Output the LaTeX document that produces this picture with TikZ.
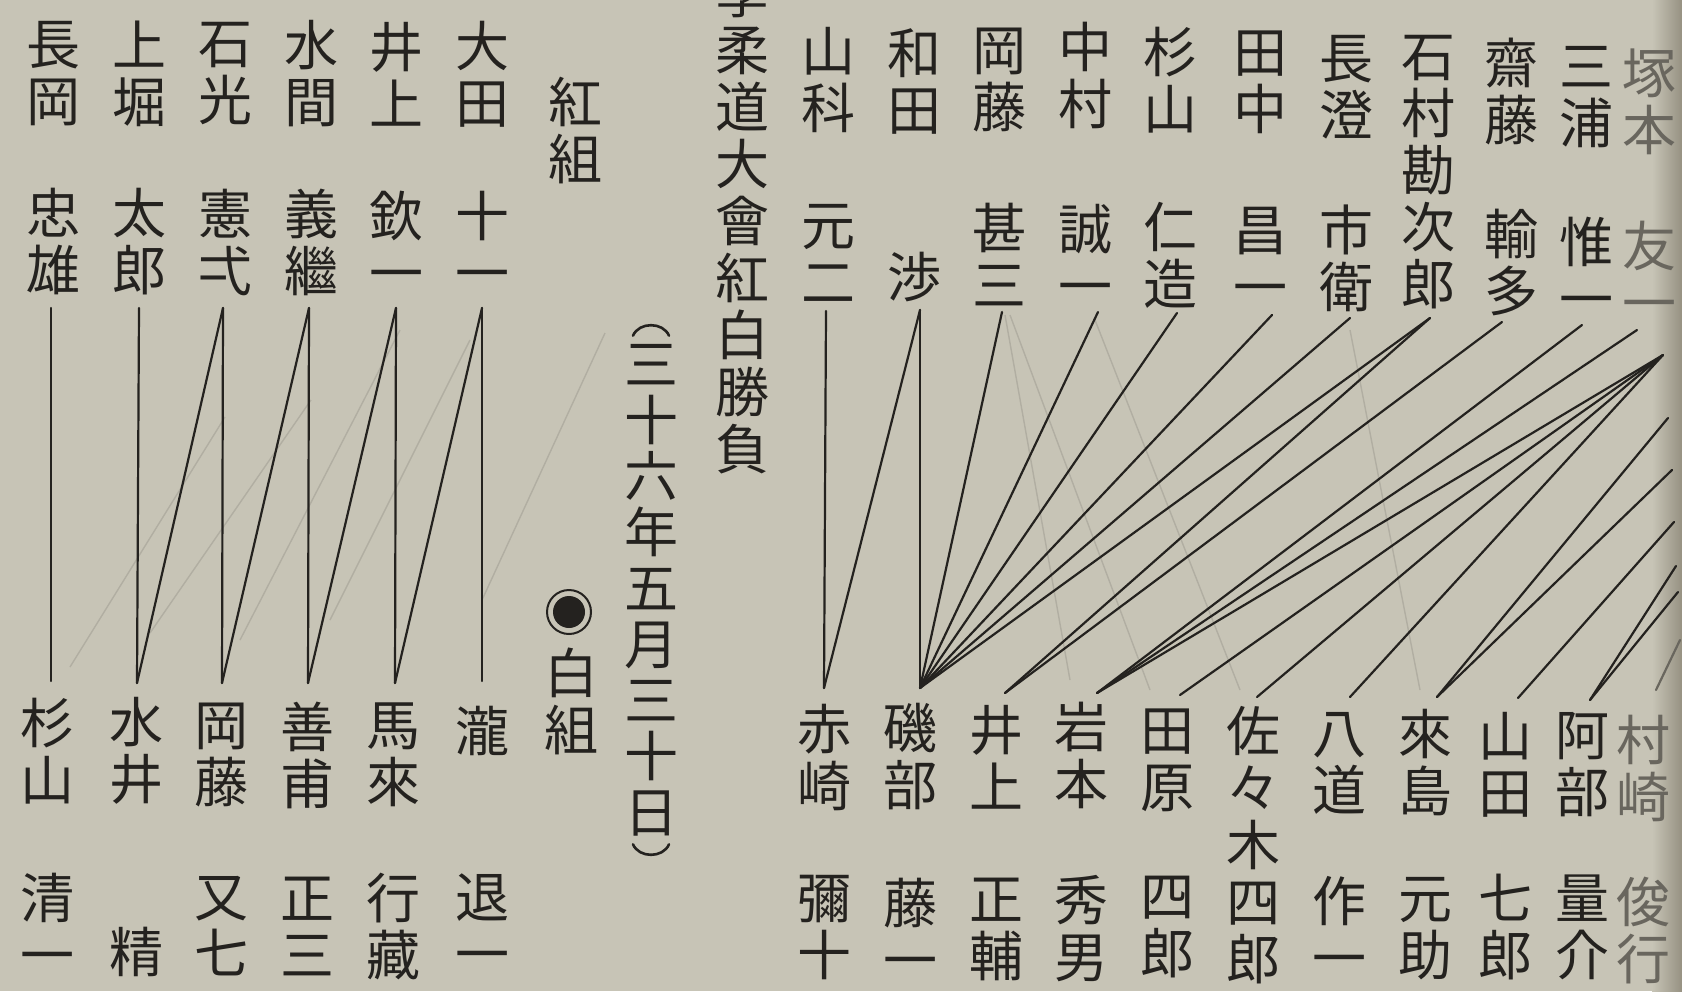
\documentclass[tikz,border=0pt]{standalone}
\usepackage{fontspec}
\newfontfamily\jp{Noto Sans CJK JP}
\definecolor{paper}{RGB}{199,196,182}
\definecolor{ink}{RGB}{36,34,31}
\definecolor{fade}{RGB}{105,102,94}
\definecolor{edge}{RGB}{150,145,130}
\begin{document}
\begin{tikzpicture}[x=0.5pt,y=-0.5pt,
  nm/.style={font=\jp\fontsize{27pt}{28.5pt}\selectfont,text=ink,align=center,inner sep=0pt},
  fd/.style={nm,text=fade},
  dt/.style={nm,font=\jp\fontsize{27pt}{28pt}\selectfont},
  lk/.style={draw=ink,line width=1.1pt,line cap=round},
  gh/.style={draw=paper!89!black,line width=0.7pt},
  paren/.style={draw=ink,line width=1.3pt,line cap=round}]
\useasboundingbox (0,0) rectangle (1682,991);
\fill[paper] (0,0) rectangle (1682,991);
\shade[left color=paper,right color=edge] (1652,0) rectangle (1682,991);
\clip (0,0) rectangle (1682,991);

% faint show-through lines
\draw[gh] (70,667) -- (225,417);
\draw[gh] (150,633) -- (311,400);
\draw[gh] (240,640) -- (400,330);
\draw[gh] (330,620) -- (470,340);
\draw[gh] (482,600) -- (605,333);
\draw[gh] (1005,315) -- (1070,680);
\draw[gh] (1010,315) -- (1150,690);
\draw[gh] (1095,320) -- (1240,690);
\draw[gh] (1350,330) -- (1420,690);

% ---- left group: red (top)
\node[nm] (rNagaoka-s) at (53,74) {長\\岡};
\node[nm] (rNagaoka-g) at (53,242) {忠\\雄};
\node[nm] (rKamibori-s) at (139,74) {上\\堀};
\node[nm] (rKamibori-g) at (139,242) {太\\郎};
\node[nm] (rIshimitsu-s) at (225,74) {石\\光};
\node[nm] (rIshimitsu-g) at (225,242) {憲\\弌};
\node[nm] (rMizuma-s) at (311,74) {水\\間};
\node[nm] (rMizuma-g) at (311,242) {義\\繼};
\node[nm] (rInoue-s) at (396,74) {井\\上};
\node[nm] (rInoue-g) at (396,242) {欽\\一};
\node[nm] (rOta-s) at (482,74) {大\\田};
\node[nm] (rOta-g) at (482,242) {十\\一};
% ---- left group: white (bottom)
\node[nm] (wSugiyama-s) at (47,751) {杉\\山};
\node[nm] (wSugiyama-g) at (47,924) {清\\一};
\node[nm] (wMizui-s) at (136,751) {水\\井};
\node[nm] (wMizui-g) at (136,952) {精};
\node[nm] (wOkafuji-s) at (221,755) {岡\\藤};
\node[nm] (wOkafuji-g) at (221,926) {又\\七};
\node[nm] (wZenpo-s) at (307,755) {善\\甫};
\node[nm] (wZenpo-g) at (307,926) {正\\三};
\node[nm] (wBarai-s) at (393,755) {馬\\來};
\node[nm] (wBarai-g) at (393,926) {行\\藏};
\node[nm] (wTaki-s) at (482,731) {瀧};
\node[nm] (wTaki-g) at (482,924) {退\\一};

% headers
\node[nm] (redhead) at (575,131) {紅\\組};
\node[nm] (whitehead) at (571,701) {白\\組};
\node[circle,draw=ink,line width=1pt,minimum size=22pt,inner sep=0pt] (maru) at (569,612) {};
\fill[ink] (maru.center) circle (8pt);
\node[dt] (date) at (651,590) {三\\十\\六\\年\\五\\月\\三\\十\\日};
\coordinate (pl) at ([xshift=-9pt,yshift=4pt]date.north);
\coordinate (pr) at ([xshift=9pt,yshift=4pt]date.north);
\draw[paren] (pl) .. controls +(3pt,7pt) and +(-3pt,7pt) .. (pr);
\coordinate (ql) at ([xshift=-9pt,yshift=-4pt]date.south);
\coordinate (qr) at ([xshift=9pt,yshift=-4pt]date.south);
\draw[paren] (ql) .. controls +(3pt,-7pt) and +(-3pt,-7pt) .. (qr);
\node[nm] (title) at (742,221) {學\\柔\\道\\大\\會\\紅\\白\\勝\\負};

% ---- right group: red (top)
\node[nm] (rYamashina-s) at (828,80) {山\\科};
\node[nm] (rYamashina-g) at (828,253) {元\\二};
\node[nm] (rWada-s) at (914,81) {和\\田};
\node[nm] (rWada-g) at (914,277) {渉};
\node[nm] (rOkafuji-s) at (999,80) {岡\\藤};
\node[nm] (rOkafuji-g) at (999,255) {甚\\三};
\node[nm] (rNakamura-s) at (1085,75) {中\\村};
\node[nm] (rNakamura-g) at (1085,255) {誠\\一};
\node[nm] (rSugiyama-s) at (1170,80) {杉\\山};
\node[nm] (rSugiyama-g) at (1170,255) {仁\\造};
\node[nm] (rTanaka-s) at (1260,82) {田\\中};
\node[nm] (rTanaka-g) at (1260,257) {昌\\一};
\node[nm] (rNagasumi-s) at (1346,87) {長\\澄};
\node[nm] (rNagasumi-g) at (1346,258) {市\\衛};
\node[nm] (rIshimura) at (1428,172) {石\\村\\勘\\次\\郎};
\node[nm] (rSaito-s) at (1511,92) {齋\\藤};
\node[nm] (rSaito-g) at (1511,263) {輸\\多};
\node[nm] (rMiura-s) at (1586,97) {三\\浦};
\node[nm] (rMiura-g) at (1586,268) {惟\\一};
\node[fd] (rTsukamoto-s) at (1649,102) {塚\\本};
\node[fd] (rTsukamoto-g) at (1649,272) {友\\一};
% ---- right group: white (bottom)
\node[nm] (wAkasaki-s) at (824,757) {赤\\崎};
\node[nm] (wAkasaki-g) at (824,927) {彌\\十};
\node[nm] (wIsobe-s) at (910,757) {磯\\部};
\node[nm] (wIsobe-g) at (910,929) {藤\\一};
\node[nm] (wInoue-s) at (996,757) {井\\上};
\node[nm] (wInoue-g) at (996,929) {正\\輔};
\node[nm] (wIwamoto-s) at (1081,755) {岩\\本};
\node[nm] (wIwamoto-g) at (1081,929) {秀\\男};
\node[nm] (wTahara-s) at (1167,760) {田\\原};
\node[nm] (wTahara-g) at (1167,927) {四\\郎};
\node[nm] (wSasaki) at (1253,845) {佐\\々\\木\\四\\郎};
\node[nm] (wHachido-s) at (1339,763) {八\\道};
\node[nm] (wHachido-g) at (1339,927) {作\\一};
\node[nm] (wKijima-s) at (1425,763) {來\\島};
\node[nm] (wKijima-g) at (1425,929) {元\\助};
\node[nm] (wYamada-s) at (1505,765) {山\\田};
\node[nm] (wYamada-g) at (1505,927) {七\\郎};
\node[nm] (wAbe-s) at (1582,765) {阿\\部};
\node[nm] (wAbe-g) at (1582,927) {量\\介};
\node[fd] (wMurasaki-s) at (1643,768) {村\\崎};
\node[fd] (wMurasaki-g) at (1643,930) {俊\\行};

% ---- connector end points, left group
\coordinate (tNagaoka) at (51,308);
\coordinate (tKamibori) at (139,308);
\coordinate (tIshimitsu) at (223,308);
\coordinate (tMizuma) at (309,308);
\coordinate (tInoueL) at (396,308);
\coordinate (tOta) at (482,308);
\coordinate (bSugiyamaL) at (51,681);
\coordinate (bMizui) at (137,683);
\coordinate (bOkafujiL) at (222,683);
\coordinate (bZenpo) at (308,683);
\coordinate (bBarai) at (395,683);
\coordinate (bTaki) at (482,681);
\draw[lk] (tNagaoka) -- (bSugiyamaL);
\draw[lk] (tKamibori) -- (bMizui);
\draw[lk] (tIshimitsu) -- (bOkafujiL);
\draw[lk] (tMizuma) -- (bZenpo);
\draw[lk] (tInoueL) -- (bBarai);
\draw[lk] (tOta) -- (bTaki);
\draw[lk] (tIshimitsu) -- (bMizui);
\draw[lk] (tMizuma) -- (bOkafujiL);
\draw[lk] (tInoueL) -- (bZenpo);
\draw[lk] (tOta) -- (bBarai);

% ---- connector end points, right group
\coordinate (tYamashina) at (826,311);
\coordinate (tWada) at (920,310);
\coordinate (tOkafujiR) at (1002,312);
\coordinate (tNakamura) at (1098,312);
\coordinate (tSugiyamaR) at (1177,313);
\coordinate (tTanaka) at (1272,315);
\coordinate (tNagasumi) at (1350,318);
\coordinate (tIshimura) at (1430,318);
\coordinate (tSaito) at (1502,322);
\coordinate (tMiura) at (1582,325);
\coordinate (tTsukamoto) at (1637,330);
\coordinate (hub) at (1663,355);
\coordinate (bAkasaki) at (824,688);
\coordinate (bIsobe) at (920,688);
\coordinate (bInoueR) at (1005,693);
\coordinate (bIwamoto) at (1097,693);
\coordinate (bTahara) at (1180,695);
\coordinate (bSasaki) at (1257,697);
\coordinate (bHachido) at (1350,697);
\coordinate (bKijima) at (1437,697);
\coordinate (bYamada) at (1518,698);
\coordinate (bAbe) at (1590,700);
\coordinate (bMurasaki) at (1656,690);
\coordinate (e1) at (1668,418);
\coordinate (e2) at (1672,470);
\coordinate (e3) at (1674,522);
\coordinate (e4) at (1676,566);
\coordinate (e5) at (1678,592);
\coordinate (e6) at (1680,640);

\draw[lk] (tYamashina) -- (bAkasaki);
\draw[lk] (tWada) -- (bAkasaki);
\draw[lk] (tWada) -- (bIsobe);
\foreach \t in {tOkafujiR,tNakamura,tSugiyamaR,tTanaka,tNagasumi,tIshimura}
  \draw[lk] (bIsobe) -- (\t);
\draw[lk] (bInoueR) -- (tIshimura);
\draw[lk] (bInoueR) -- (tSaito);
\draw[lk] (bIwamoto) -- (tMiura);
\draw[lk] (bIwamoto) -- (tTsukamoto);
\draw[lk] (bIwamoto) -- (hub);
\draw[lk] (bTahara) -- (hub);
\draw[lk] (bSasaki) -- (hub);
\draw[lk] (bHachido) -- (hub);
\draw[lk] (bKijima) -- (e1);
\draw[lk] (bKijima) -- (e2);
\draw[lk] (bYamada) -- (e3);
\draw[lk] (bAbe) -- (e4);
\draw[lk] (bAbe) -- (e5);
\draw[lk,draw=fade] (bMurasaki) -- (e6);
\end{tikzpicture}
\end{document}
